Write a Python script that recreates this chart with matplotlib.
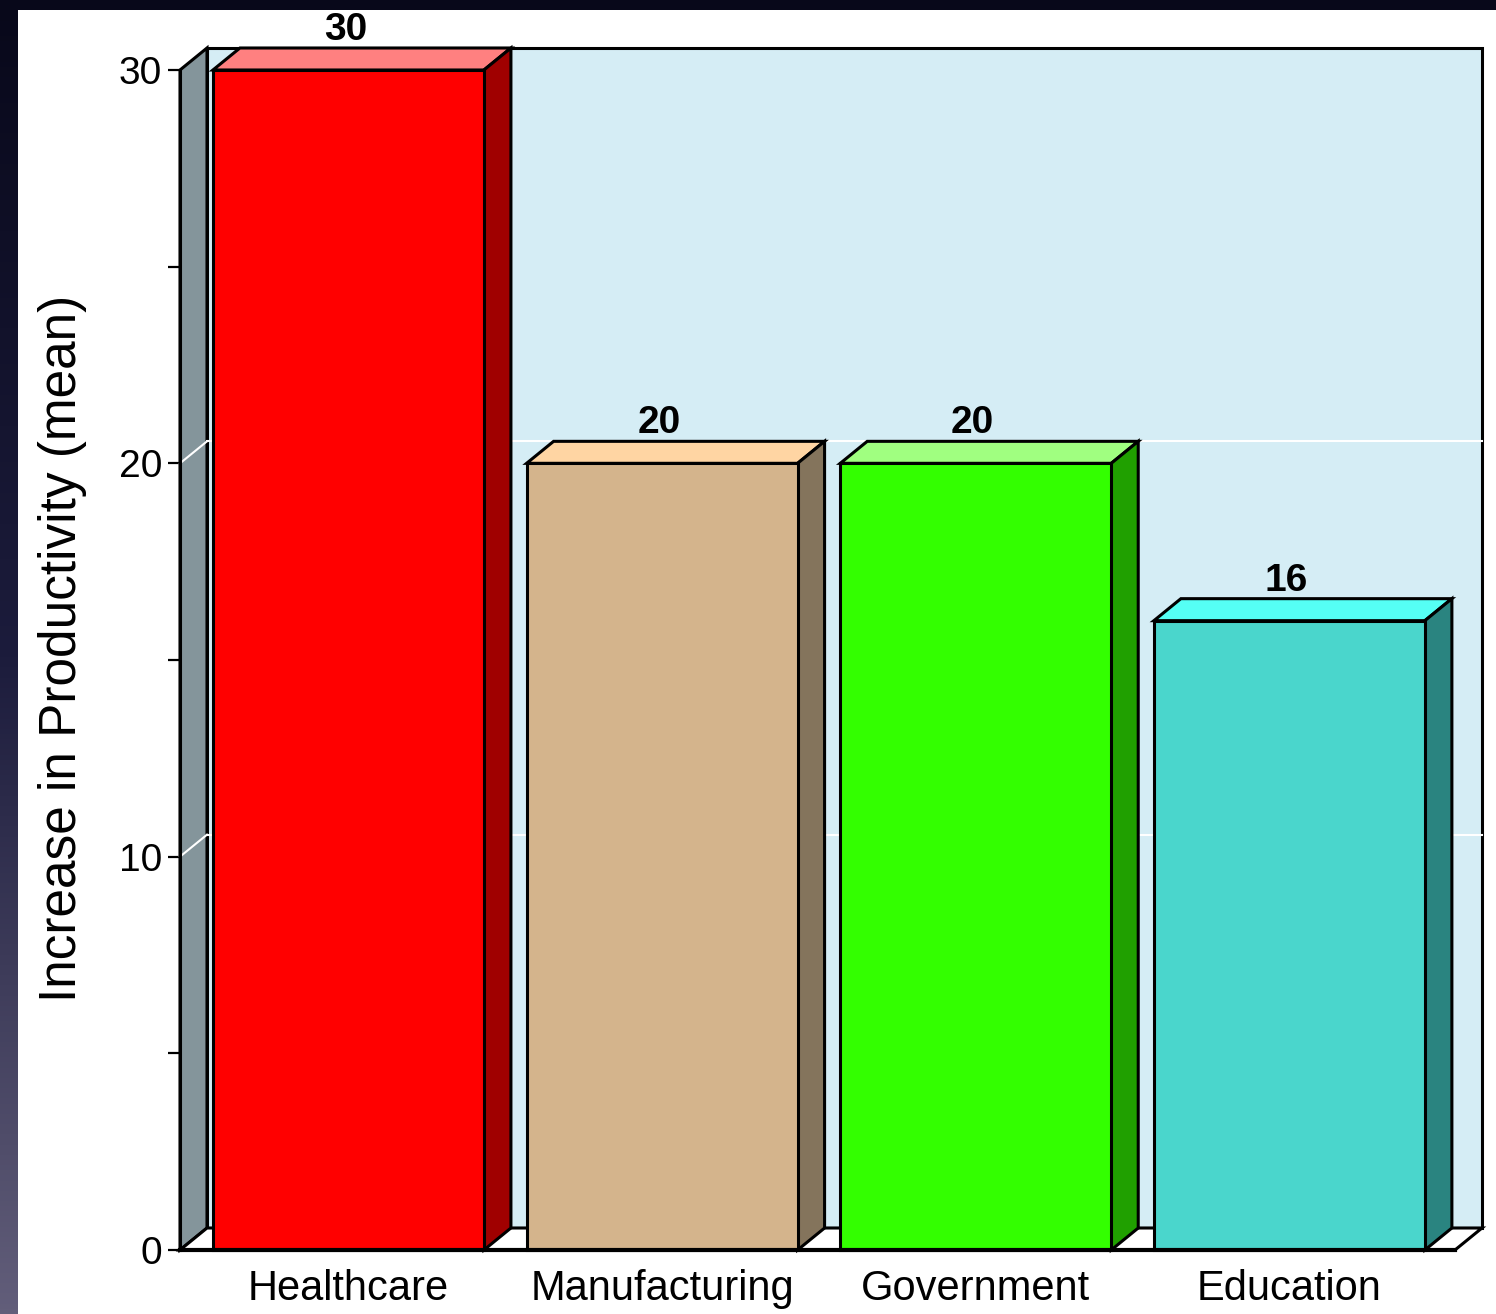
import matplotlib
matplotlib.use('Agg')
import matplotlib.pyplot as plt
import numpy as np
from matplotlib.patches import Polygon, Rectangle
from matplotlib.colors import LinearSegmentedColormap

# data
categories = ['Healthcare', 'Manufacturing', 'Government', 'Education']
values = [30, 20, 20, 16]
front_colors = ['#ff0000', '#d4b48c', '#33ff00', '#4ad6cc']
top_colors = ['#ff8080', '#ffd5a3', '#a0ff80', '#55fff5']
side_colors = ['#a00000', '#84745c', '#20a000', '#2a8480']
y_ticks = [0, 10, 20, 30]
y_minor = [5, 15, 25]

plt.rcParams['font.family'] = ['Liberation Sans', 'DejaVu Sans']

fig = plt.figure(figsize=(14.96, 13.14), dpi=100)

# dark gradient background
bg = fig.add_axes([0, 0, 1, 1])
cmap = LinearSegmentedColormap.from_list('bg', ['#08081a', '#1c1c3c', '#625e7a'])
grad = np.linspace(0, 1, 256).reshape(-1, 1)
bg.imshow(grad, aspect='auto', cmap=cmap, extent=[0, 1, 0, 1], origin='upper')
bg.add_patch(Rectangle((18 / 1496, 0), 1, 1 - 10 / 1314, facecolor='white',
                       edgecolor='none'))
bg.set_xlim(0, 1)
bg.set_ylim(0, 1)
bg.axis('off')

ax = fig.add_axes([180 / 1496, 1 - 1250 / 1314, 1275 / 1496, 1180 / 1314])
ax.patch.set_alpha(0)
xmin, xmax = -0.537, 3.528
ymax = 30
ax.set_xlim(xmin, xmax)
ax.set_ylim(0, ymax)
for s in ax.spines.values():
    s.set_visible(False)

dx = 27 / 313.7   # depth offset in data units
dy = 22 / 39.33
lw = 2.2
width = 0.864
x = np.arange(len(categories))

# walls
ax.add_patch(Polygon([(xmin + dx, dy), (xmax + dx, dy), (xmax + dx, ymax + dy),
                      (xmin + dx, ymax + dy)], closed=True, facecolor='#d5edf5',
                     edgecolor='black', lw=lw, clip_on=False, zorder=1))
ax.add_patch(Polygon([(xmin, 0), (xmin + dx, dy), (xmin + dx, ymax + dy), (xmin, ymax)],
                     closed=True, facecolor='#84959b', edgecolor='black', lw=lw,
                     clip_on=False, zorder=1))
ax.add_patch(Polygon([(xmin, 0), (xmin + dx, dy), (xmax + dx, dy), (xmax, 0)],
                     closed=True, facecolor='white', edgecolor='black', lw=lw,
                     clip_on=False, zorder=1))

# grid lines on the walls
for v in [10, 20]:
    ax.plot([xmin + dx, xmax + dx], [v + dy, v + dy], color='white', lw=1.5,
            clip_on=False, zorder=2)
    ax.plot([xmin, xmin + dx], [v, v + dy], color='white', lw=1.5,
            clip_on=False, zorder=2)

# bars
for i, v in enumerate(values):
    l = x[i] - width / 2
    r = x[i] + width / 2
    ax.add_patch(Rectangle((l, 0), width, v, facecolor=front_colors[i],
                           edgecolor='black', lw=lw, zorder=4, clip_on=False))
    ax.add_patch(Polygon([(l, v), (l + dx, v + dy), (r + dx, v + dy), (r, v)],
                         closed=True, facecolor=top_colors[i], edgecolor='black',
                         lw=lw, zorder=3, clip_on=False))
    ax.add_patch(Polygon([(r, 0), (r + dx, dy), (r + dx, v + dy), (r, v)],
                         closed=True, facecolor=side_colors[i], edgecolor='black',
                         lw=lw, zorder=3, clip_on=False))
    ax.text(x[i] - 0.01, v + dy, str(v), ha='center', va='bottom', fontsize=28,
            fontweight='bold', zorder=6)

# front axis lines
ax.plot([xmin, xmin], [0, ymax], color='black', lw=lw, clip_on=False, zorder=5)
ax.plot([xmin, xmax], [0, 0], color='black', lw=3, clip_on=False, zorder=5)

ax.set_yticks(y_ticks)
ax.set_yticks(y_minor, minor=True)
ax.tick_params(axis='y', which='both', length=9, width=1.6, pad=4, labelsize=28)
ax.set_xticks(x)
ax.set_xticklabels(categories, fontsize=30)
ax.tick_params(axis='x', length=0, pad=14)

ax.set_ylabel('Increase in Productivity (mean)', fontsize=37, va='center')
ax.yaxis.set_label_coords(-0.092, 0.51)

fig.savefig('out.png', dpi=100)
